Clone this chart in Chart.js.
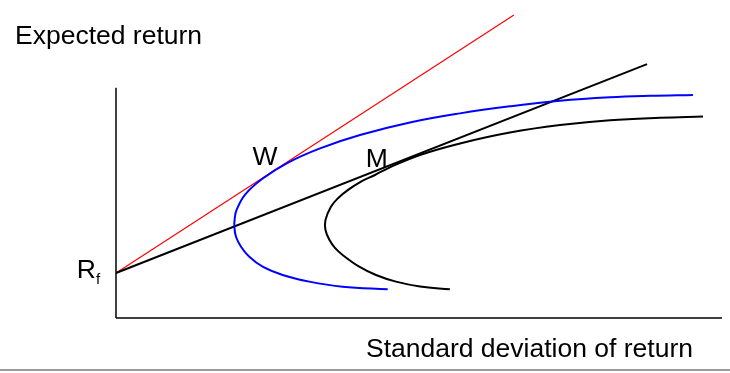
<!DOCTYPE html>
<html>
<head>
<meta charset="utf-8">
<script src="https://cdn.jsdelivr.net/npm/chart.js@4/dist/chart.umd.min.js"></script>
<style>
  html, body { margin: 0; padding: 0; background: #fff; }
  #wrap { position: relative; width: 730px; height: 373px; overflow: hidden; }
  #bottomRule { position: absolute; left: 0; top: 369px; width: 730px; height: 2px; background: #9b9b9b; }
</style>
</head>
<body>
<div id="wrap">
  <canvas id="chart" width="730" height="373"></canvas>
  <div id="bottomRule"></div>
</div>
<script>
// Data (sigma = standard deviation, ret = expected return)
const riskFree = 2.23;

const axisYSigma = [0, 0];
const axisYRet = [0, 11.4];
const axisXSigma = [0, 30];
const axisXRet = [0, 0];

const redLineSigma = [0, 19.7];
const redLineRet = [riskFree, 15.0];

const cmlSigma = [0, 26.29];
const cmlRet = [riskFree, 12.57];

// frontier through W (blue), bottom end to top end
const frontWSigma = [13.45, 11.22, 9.57, 8.25, 7.26, 6.60, 6.19, 5.94, 5.86, 5.88, 5.97, 6.39, 7.23, 8.45, 10.10, 12.08, 14.55, 17.03, 19.50, 21.98, 24.46, 26.44, 28.56];
const frontWRet   = [1.42, 1.55, 1.80, 2.13, 2.54, 3.03, 3.53, 4.02, 4.52, 4.95, 5.35, 6.11, 6.88, 7.66, 8.40, 9.06, 9.68, 10.13, 10.48, 10.76, 10.93, 11.00, 11.04];

// frontier through M (black), bottom end to top end
const frontMSigma = [16.53, 15.05, 13.86, 12.87, 12.04, 11.22, 10.84, 10.57, 10.37, 10.37, 10.64, 10.99, 11.49, 12.13, 12.82, 13.56, 15.05, 17.03, 19.50, 21.98, 24.46, 26.93, 29.06];
const frontMRet   = [1.42, 1.56, 1.80, 2.13, 2.54, 3.12, 3.47, 3.86, 4.36, 4.85, 5.51, 5.93, 6.34, 6.75, 7.08, 7.46, 8.07, 8.64, 9.18, 9.55, 9.79, 9.91, 9.97];

const wIndex = 12;  // tangency point on blue frontier
const mIndex = 15;  // tangency point on black frontier

function pts(xs, ys) {
    return xs.map((x, i) => ({ x: x, y: ys[i] }));
}

function lineSet(xs, ys, color, width, tension) {
    return {
        data: pts(xs, ys),
        borderColor: color,
        borderWidth: width,
        pointRadius: 0,
        tension: tension || 0,
        fill: false,
        clip: false
    };
}

const labelFont = '26.5px "Liberation Sans", Arial, sans-serif';

// Teks label dan judul sumbu
const labelPlugin = {
    id: 'labels',
    afterDatasetsDraw(chart) {
        const ctx = chart.ctx;
        const xs = chart.scales.x;
        const ys = chart.scales.y;
        ctx.save();
        ctx.fillStyle = '#000';
        ctx.font = labelFont;
        ctx.textBaseline = 'alphabetic';

        ctx.textAlign = 'left';
        ctx.fillText('Expected return', 15, 44);

        ctx.textAlign = 'right';
        ctx.fillText('Standard deviation of return', 693, 357);

        ctx.textAlign = 'center';
        const wx = xs.getPixelForValue(frontWSigma[wIndex]);
        const wy = ys.getPixelForValue(frontWRet[wIndex]);
        ctx.fillText('W', wx + 3, wy - 14);

        const mx = xs.getPixelForValue(frontMSigma[mIndex]);
        const my = ys.getPixelForValue(frontMRet[mIndex]);
        ctx.fillText('M', mx - 13, my);

        const rx = xs.getPixelForValue(0);
        const ry = ys.getPixelForValue(riskFree);
        ctx.textAlign = 'right';
        ctx.fillText('R', rx - 20, ry + 5);
        ctx.font = '15px "Liberation Sans", Arial, sans-serif';
        ctx.textAlign = 'left';
        ctx.fillText('f', rx - 20, ry + 11);
        ctx.restore();
    }
};

const ctx = document.getElementById('chart').getContext('2d');
new Chart(ctx, {
    type: 'line',
    data: {
        datasets: [
            lineSet(axisYSigma, axisYRet, '#000', 1.5),
            lineSet(axisXSigma, axisXRet, '#000', 1.5),
            lineSet(frontMSigma, frontMRet, '#000', 2, 0.4),
            lineSet(frontWSigma, frontWRet, '#0000ff', 2, 0.4),
            lineSet(cmlSigma, cmlRet, '#000', 2),
            lineSet(redLineSigma, redLineRet, '#ff0000', 1.2)
        ]
    },
    options: {
        responsive: false,
        animation: false,
        events: [],
        layout: { padding: { left: 116, right: 8, top: 15, bottom: 55 } },
        plugins: { legend: { display: false }, tooltip: { enabled: false } },
        scales: {
            x: { type: 'linear', min: 0, max: 30, display: false },
            y: { type: 'linear', min: 0, max: 15, display: false }
        }
    },
    plugins: [labelPlugin]
});
</script>
</body>
</html>
